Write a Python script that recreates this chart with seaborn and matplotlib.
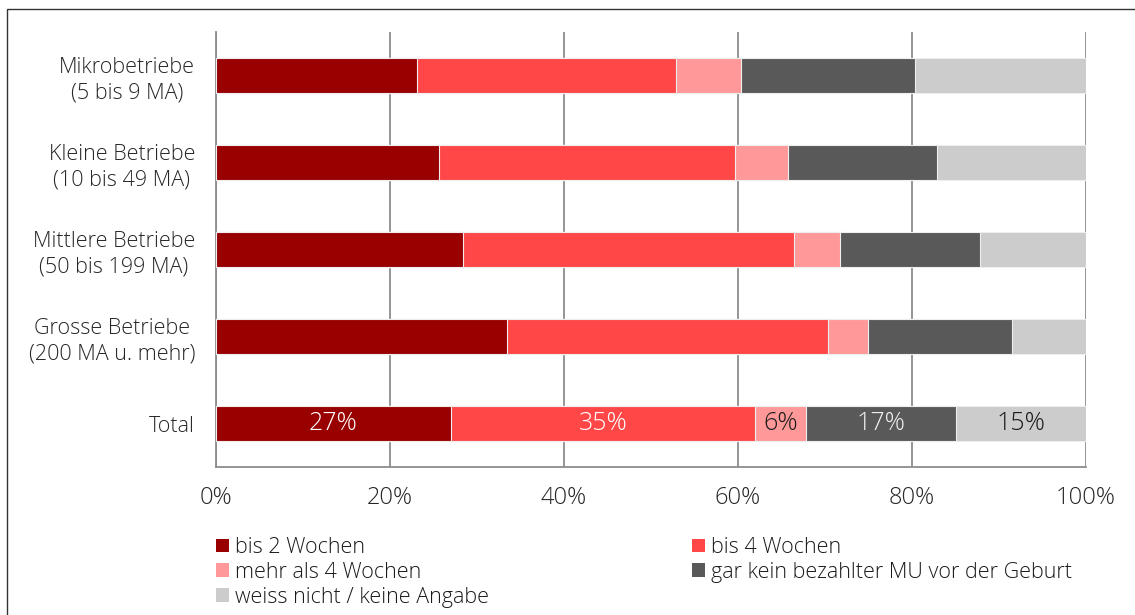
import matplotlib
matplotlib.use('Agg')
import matplotlib.pyplot as plt
from matplotlib.patches import Patch, Rectangle
import numpy as np
import pandas as pd
import seaborn as sns

categories = ['Mikrobetriebe\n(5 bis 9 MA)', 'Kleine Betriebe\n(10 bis 49 MA)',
              'Mittlere Betriebe\n(50 bis 199 MA)', 'Grosse Betriebe\n(200 MA u. mehr)', 'Total']
series_names = ['bis 2 Wochen', 'bis 4 Wochen', 'mehr als 4 Wochen',
                'gar kein bezahlter MU vor der Geburt', 'weiss nicht / keine Angabe']
bis_2 = [23.1, 25.6, 28.4, 33.4, 27.0]
bis_4 = [29.8, 34.1, 38.0, 37.0, 35.0]
mehr_4 = [7.4, 6.1, 5.3, 4.5, 5.8]
gar_kein = [20.0, 17.1, 16.1, 16.6, 17.2]
weiss_nicht = [19.7, 17.1, 12.2, 8.5, 15.0]
colors = ['#990000', '#FF4747', '#FF9999', '#595959', '#CCCCCC']
label_colors = ['white', 'white', '#1a1a1a', '#f0f0f0', '#1a1a1a']

sns.set_style('white')
plt.rcParams['font.family'] = ['Open Sans', 'DejaVu Sans']
plt.rcParams['font.weight'] = 'light'
plt.rcParams['text.color'] = '#1a1a1a'

series = [bis_2, bis_4, mehr_4, gar_kein, weiss_nicht]
cum = np.cumsum(np.array(series), axis=0)

fig = plt.figure(figsize=(11.35, 6.15), dpi=100)
ax = fig.add_axes([216 / 1135, (615 - 467) / 615, 870 / 1135, 435 / 615])

# stacked bars: draw cumulative totals from the largest down
for i in range(len(series) - 1, -1, -1):
    df = pd.DataFrame({'cat': categories, 'val': cum[i]})
    sns.barplot(data=df, y='cat', x='val', color=colors[i], width=0.4, saturation=1,
                edgecolor='#eeeeee', linewidth=0.8, ax=ax, zorder=3)

# percentage labels on the Total row
total_idx = len(categories) - 1
for i in range(len(series)):
    v = series[i][total_idx]
    start = cum[i][total_idx] - v
    ax.text(start + v / 2, total_idx, f'{round(v):.0f}%', ha='center', va='center',
            fontsize=18, color=label_colors[i], zorder=5)

ax.set_xlim(0, 100)
ax.set_ylim(len(categories) - 0.5, -0.5)
ax.set_xlabel('')
ax.set_ylabel('')
ax.set_xticks(range(0, 101, 20))
ax.set_xticklabels([f'{t}%' for t in range(0, 101, 20)], fontsize=17)
ax.xaxis.grid(True, color='#8c8c8c', linewidth=1.3, zorder=1)
ax.set_axisbelow(True)
ax.tick_params(axis='x', length=7, width=1.3, color='#8c8c8c', pad=7, direction='out')
ax.tick_params(axis='y', which='major', length=0, pad=15, labelsize=15.5)
ax.set_yticks(np.arange(-0.5, len(categories), 1.0), minor=True)
ax.tick_params(axis='y', which='minor', length=8, width=1.3, color='#8c8c8c', direction='out')
for lab in ax.get_yticklabels():
    lab.set_multialignment('center')
    lab.set_linespacing(1.3)

for side in ['top', 'right']:
    ax.spines[side].set_visible(False)
for side in ['left', 'bottom']:
    ax.spines[side].set_color('#8c8c8c')
    ax.spines[side].set_linewidth(1.3)

handles = [Patch(facecolor=c, edgecolor='none') for c in colors]
leg_kw = dict(frameon=False, fontsize=15.5, handlelength=0.6, handleheight=0.6,
              handletextpad=0.3, labelspacing=0.18, borderaxespad=0, borderpad=0,
              loc='upper left')
leg1 = fig.legend([handles[0], handles[2], handles[4]],
                  [series_names[0], series_names[2], series_names[4]],
                  bbox_to_anchor=(216 / 1135, 1 - 537 / 615), **leg_kw)
leg2 = fig.legend([handles[1], handles[3]], [series_names[1], series_names[3]],
                  bbox_to_anchor=(692 / 1135, 1 - 537 / 615), **leg_kw)

# outer frame
fig.patches.append(Rectangle((7 / 1135, -0.1), 1.2, 1.1 - 9 / 615,
                             transform=fig.transFigure, fill=False,
                             edgecolor='#333333', linewidth=1.0))

plt.savefig('out.png', dpi=100)
